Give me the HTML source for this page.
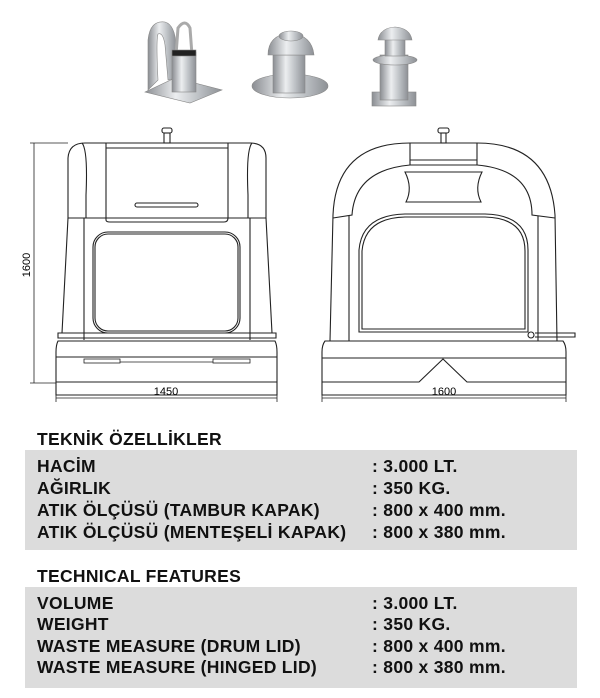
<!DOCTYPE html>
<html><head><meta charset="utf-8"><style>
html,body{margin:0;padding:0;background:#fff;width:600px;height:698px;overflow:hidden}
svg{display:block}
text{font-family:"Liberation Sans",sans-serif}
.t{font-weight:bold;font-size:17.5px;fill:#111;letter-spacing:.3px}
</style></head><body>
<svg width="600" height="698" viewBox="0 0 600 698" xmlns="http://www.w3.org/2000/svg">
<defs>
<linearGradient id="m" x1="0" x2="1"><stop offset="0" stop-color="#8a8d92"/><stop offset=".4" stop-color="#eceef0"/><stop offset=".7" stop-color="#bcc0c4"/><stop offset="1" stop-color="#8d9095"/></linearGradient>
</defs>
<g stroke="#888" stroke-width=".6" fill="url(#m)">
<path d="M145 92 L175 78 L222 90 L190 103 Z"/>
<path d="M148 90 L148 40 Q150 20 165 22 Q175 25 176 45 L176 78 L168 80 L165 45 Q163 32 158 34 Q156 40 158 80 Z"/>
<path d="M176 55 L178 28 Q185 18 190 28 L192 55 Z" fill="none" stroke="#aaa" stroke-width="3"/>
<rect x="172" y="52" width="24" height="40"/>
<rect x="172" y="50" width="24" height="6" fill="#222"/>
<ellipse cx="290" cy="86" rx="38" ry="12"/>
<rect x="273" y="55" width="32" height="38"/>
<path d="M268 55 Q268 35 290 33 Q312 35 314 55 Z"/>
<ellipse cx="291" cy="36" rx="12" ry="5"/>
<rect x="372" y="92" width="44" height="14"/>
<rect x="380" y="55" width="28" height="45"/>
<ellipse cx="395" cy="60" rx="22" ry="5"/>
<rect x="385" y="38" width="20" height="18"/>
<path d="M378 40 Q380 28 395 27 Q410 28 412 40 Z"/>
</g>
<g fill="none" stroke="#222" stroke-width="1.1">
<rect x="162" y="128" width="10" height="5" rx="2"/><rect x="164" y="133" width="6" height="10"/>
<path d="M68 218 L68 158 Q69 143 85 143 L250 143 Q266 143 266 158 L266 218 Z"/>
<path d="M82 143 Q88 150 86 195 L86 218 M252 143 Q246 150 248 195 L248 218"/>
<path d="M106 143 L106 220 Q106 222 110 222 L224 222 Q228 222 228 218 L228 143 M106 148 L228 148"/>
<rect x="135" y="203" width="63" height="4" rx="2"/>
<path d="M68 218 L62 333 M266 218 L272 333 M84 218 L84 340 M250 218 L250 340"/>
<rect x="93" y="232" width="147" height="101" rx="15"/><rect x="95" y="234" width="143" height="97" rx="13"/>
<path d="M58 333 L276 333 L276 338 L58 338 Z"/>
<path d="M58 341 Q56 345 56 352 L56 395 L277 395 L277 352 Q277 345 275 341 Z"/>
<path d="M56 357 L277 357 M56 382 L277 382"/>
<rect x="84" y="359" width="36" height="4" stroke-width=".8"/><rect x="213" y="359" width="37" height="4" stroke-width=".8"/>
<path d="M120 362 L213 362" stroke-width=".8"/>
</g>
<g stroke="#222" stroke-width=".8" fill="none">
<path d="M34 143 L34 383 M30 143 L68 143 M30 383 L56 383 M56 398 L277 398 M56 386 L56 402 M277 386 L277 402"/>
<path d="M322 402 L322 390 M566 402 L566 390 M322 398 L566 398"/>
</g>
<text x="30" y="265" font-size="11" text-anchor="middle" transform="rotate(-90 30 265)">1600</text>
<text x="166" y="395" font-size="11" text-anchor="middle">1450</text>
<text x="444" y="395" font-size="11" text-anchor="middle">1600</text>
<g fill="none" stroke="#222" stroke-width="1.1">
<rect x="438" y="128" width="11" height="5" rx="2"/><rect x="441" y="133" width="5" height="10"/>
<path d="M330 341 L333 215 Q336 143 410 143 L477 143 Q550 143 555 215 L557 341"/>
<path d="M410 143 L410 165 L477 165 L477 143 M410 160 L477 160"/>
<path d="M333 218 L352 215 Q355 170 410 165 M477 165 Q532 170 532 215 L555 218"/>
<path d="M349 216 L349 341 M538 216 L538 341"/>
<path d="M405 172 L482 172 Q474 188 481 202 L406 202 Q413 188 405 172 Z"/>
<path d="M359 332 L359 250 Q362 215 405 214 L485 214 Q528 215 528 250 L528 332 Z"/>
<path d="M362 329 L362 251 Q365 218 405 217 L485 217 Q525 218 525 251 L525 329 Z"/>
<path d="M325 341 L563 341 Q566 345 566 352 L566 395 L322 395 L322 352 Q322 345 325 341 Z"/>
<path d="M322 358 L566 358"/>
<path d="M322 382 L419 382 L443 359 L467 382 L566 382"/>
<path d="M535 333 L575 333 L575 337 L535 337"/><circle cx="531" cy="335" r="3"/>
</g>
<text class="t" x="37" y="445">TEKNİK ÖZELLİKLER</text>
<rect x="25" y="450" width="552" height="100" fill="#dcdcdc"/>
<text class="t" x="37" y="472">HACİM</text><text class="t" x="372" y="472">: 3.000 LT.</text>
<text class="t" x="37" y="494">AĞIRLIK</text><text class="t" x="372" y="494">: 350 KG.</text>
<text class="t" x="37" y="516">ATIK ÖLÇÜSÜ (TAMBUR KAPAK)</text><text class="t" x="372" y="516">: 800 x 400 mm.</text>
<text class="t" x="37" y="538">ATIK ÖLÇÜSÜ (MENTEŞELİ KAPAK)</text><text class="t" x="372" y="538">: 800 x 380 mm.</text>
<text class="t" x="37" y="582">TECHNICAL FEATURES</text>
<rect x="25" y="587" width="552" height="101" fill="#dcdcdc"/>
<text class="t" x="37" y="609">VOLUME</text><text class="t" x="372" y="609">: 3.000 LT.</text>
<text class="t" x="37" y="630">WEIGHT</text><text class="t" x="372" y="630">: 350 KG.</text>
<text class="t" x="37" y="652">WASTE MEASURE (DRUM LID)</text><text class="t" x="372" y="652">: 800 x 400 mm.</text>
<text class="t" x="37" y="673">WASTE MEASURE (HINGED LID)</text><text class="t" x="372" y="673">: 800 x 380 mm.</text>
</svg>
</body></html>
